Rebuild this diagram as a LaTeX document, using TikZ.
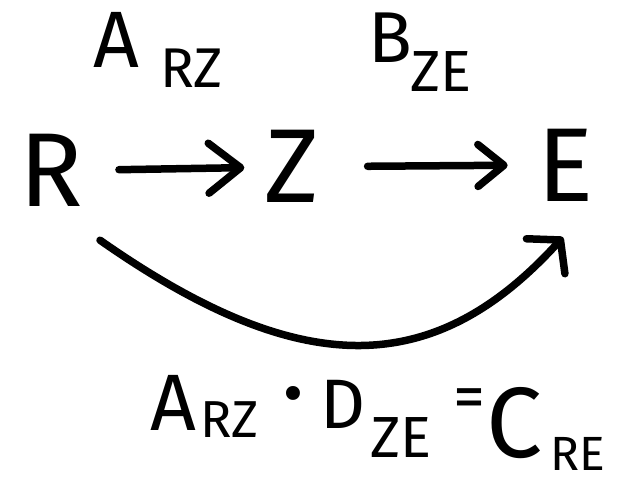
\documentclass[tikz,border=0pt]{standalone}
\usepackage{fontspec}
\setmainfont{Fira Sans}
\usetikzlibrary{arrows.meta}
\newcommand\myfs[1]{\fontsize{#1}{#1}\selectfont}
\begin{document}
\begin{tikzpicture}[x=1pt,y=-1pt,
  hand/.style={line width=7.5pt,line cap=round,line join=round},
  lbl/.style={inner sep=0pt,anchor=base west},
  big/.style={inner sep=0pt,anchor=base,font=\myfs{105}},
]
\useasboundingbox[fill=white] (0,0) rectangle (625,487);
% main nodes
\node[big] (R) at (51,207) {R};
\node[big] (Z) at (292,203) {Z};
\node[big] (E) at (566,201) {E};
% arrows
\draw[hand,-{Straight Barb[length=32pt,width=50pt,round]},shorten <=36pt,shorten >=20pt] (R) -- (Z);
\draw[hand,-{Straight Barb[length=26pt,width=42pt,round]},shorten <=48pt,shorten >=30pt] (Z) -- (E);
\draw[hand,-{Straight Barb[length=22pt,width=52pt,round]}]
  ([shift={(49,33)}]R.south) .. controls +(200,140) and +(-130,143) .. ([shift={(-3,36)}]E.south);
% top labels
\node[lbl,font=\myfs{80}] (A1) at (93,68) {A};
\node[lbl,font=\myfs{56}] (A1s) at (160,88) {RZ};
\node[lbl,font=\myfs{72}] (B1) at (368,63) {B};
\node[lbl,font=\myfs{58}] (B1s) at (410,92) {ZE};
% bottom formula
\node[lbl,font=\myfs{80}] (A2) at (150,430) {A};
\node[lbl,font=\myfs{52}] (A2s) at (200,437) {RZ};
\node[inner sep=0pt,font=\myfs{100}] (dot) at (293,405) {·};
\node[lbl,font=\myfs{70}] (D2) at (320,428) {D};
\node[lbl,font=\myfs{58}] (D2s) at (370,457) {ZE};
\node[lbl,font=\myfs{64}] (eq) at (453,418) {=};
\node[lbl,font=\myfs{100}] (C2) at (486,457) {C};
\node[lbl,font=\myfs{48}] (C2s) at (550,470) {RE};
\end{tikzpicture}
\end{document}
